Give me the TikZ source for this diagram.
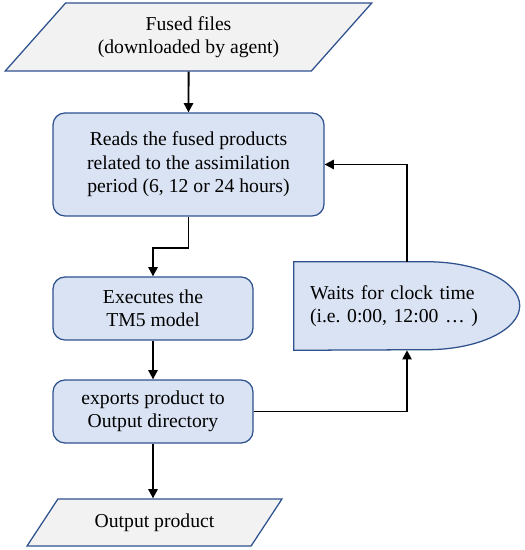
\documentclass[tikz,border=0pt]{standalone}
\usepackage{fontspec}
\setmainfont{Liberation Serif}
\usetikzlibrary{positioning,arrows.meta,shapes.geometric,calc,backgrounds}
\definecolor{boxfill}{HTML}{DAE3F3}
\definecolor{boxline}{HTML}{2F528F}
\definecolor{iofill}{HTML}{F2F2F2}

\begin{document}
\begin{tikzpicture}[>={Triangle[length=6.5pt,width=6.5pt]},
    every node/.style={font=\fontsize{14}{16.7}\selectfont},
    block/.style={rectangle, draw=boxline, line width=0.9pt, rounded corners=8.5pt, fill=boxfill, align=center, inner sep=0pt},
    data/.style={trapezium, trapezium left angle=43, trapezium right angle=137, trapezium stretches=true, draw=boxline, line width=0.9pt, fill=iofill, align=center, inner sep=0pt},
    flow/.style={->, line width=1.4pt}]
    \useasboundingbox (0,0) rectangle (13.1,13.75);

    \node[data, minimum width=9.175cm, minimum height=1.7cm] (files) at (4.7125, 12.825) {Fused files\\(downloaded by agent)};
    \node[block, minimum width=6.775cm, minimum height=2.575cm] (reads) at (4.7125, 9.6375) {Reads the fused products\\related to the assimilation\\period (6, 12 or 24 hours)};
    \node[block, minimum width=5cm, minimum height=1.575cm] (exec) at (3.825, 6.0375) {Executes the\\TM5 model};
    \node[block, minimum width=5cm, minimum height=1.575cm] (export) at (3.825, 3.4625) {exports product to\\Output directory};
    \node[data, minimum width=6.375cm, minimum height=1.175cm] (out) at (3.8625, 0.6875) {Output product};
    \node[text width=4.85cm, align=left, inner xsep=0.4cm, inner ysep=0pt, minimum height=2.2cm] (wait) at (10.175, 6.1) {Waits for clock time\\(i.e.\ 0:00, 12:00 \dots\ )};

    % delay shape behind the text
    \begin{scope}[on background layer]
        \draw[draw=boxline, line width=0.9pt, fill=boxfill] (wait.north west) -- ++(3.325,0)
            arc[start angle=90, end angle=-90, x radius=2.325, y radius=1.1] -- (wait.south west) -- cycle;
    \end{scope}

    \draw[flow] (files) -- (reads);
    \draw[flow] (reads.south) -- ++(0,-0.775) -| (exec.north);
    \draw[flow] (exec) -- (export);
    \draw[flow] (export.east) -| (wait.south);
    \draw[flow] (wait.north) |- (reads.east);
    \draw[flow] (export.south) -- (export.south |- out.north);
\end{tikzpicture}
\end{document}
